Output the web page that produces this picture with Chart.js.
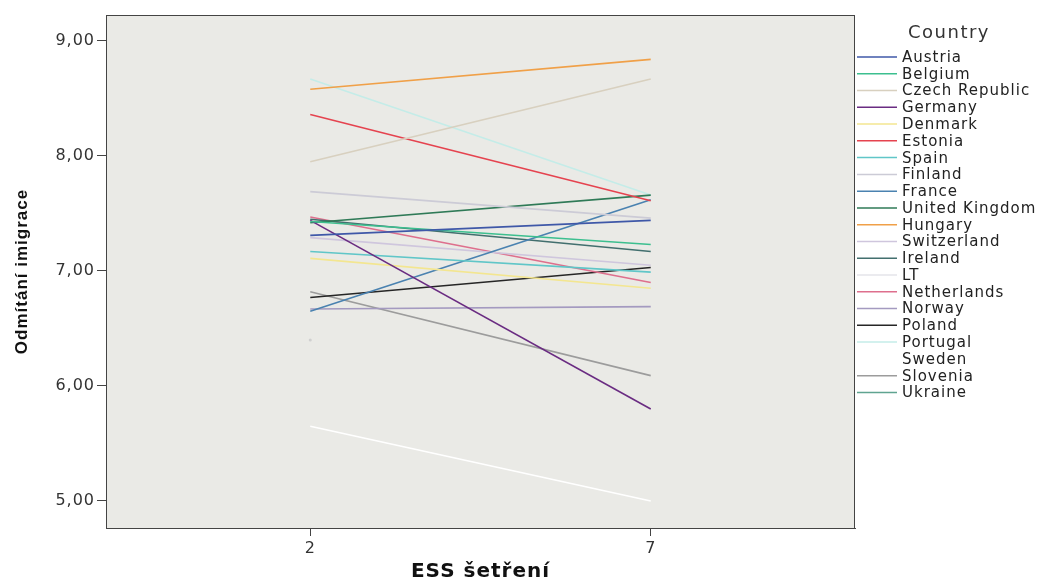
<!DOCTYPE html>
<html>
<head>
<meta charset="utf-8">
<script src="https://cdn.jsdelivr.net/npm/chart.js@4.4.1/dist/chart.umd.min.js"></script>
<style>
  body { margin: 0; background: #ffffff; }
  canvas { display: block; }
</style>
</head>
<body>
<canvas id="ess-chart" width="1043" height="584"></canvas>
<script>
// ESS waves on the x axis
const waves = [2, 7];
const countries = ["Austria", "Belgium", "Czech Republic", "Germany", "Denmark", "Estonia", "Spain",
  "Finland", "France", "United Kingdom", "Hungary", "Switzerland", "Ireland", "LT", "Netherlands",
  "Norway", "Poland", "Portugal", "Sweden", "Slovenia", "Ukraine"];
const wave2 = [7.31, 7.43, 7.95, 7.44, 7.11, 8.36, 7.17, 7.69, 6.65, 7.42, 8.58, 7.29, 7.45, null,
  7.47, 6.67, 6.77, 8.67, 5.65, 6.82, 6.40];
const wave7 = [7.44, 7.23, 8.67, 5.80, 6.85, 7.61, 6.99, 7.46, 7.62, 7.66, 8.84, 7.05, 7.17, null,
  6.90, 6.69, 7.03, 7.66, 5.00, 6.09, null];
const yTicks = [5, 6, 7, 8, 9];

const colors = ["#3f58a8", "#3cbf8f", "#d8d0bf", "#6a2c82", "#f3e690", "#e5434f", "#60c6c8",
  "#cccbd6", "#4a82b0", "#2f7a57", "#f0a048", "#cfc6dd", "#426f6e", "#e4e4ea", "#de6f8d",
  "#a49ac0", "#262626", "#c4ece8", "#ffffff", "#9c9c9c", "#5fa491"];

document.addEventListener("DOMContentLoaded", function () {
  const ctx = document.getElementById("ess-chart").getContext("2d");

  const datasets = countries.map(function (name, i) {
    const vals = [wave2[i], wave7[i]];
    return {
      label: name,
      data: waves.map(function (w, j) { return { x: w, y: vals[j] }; }),
      borderColor: colors[i],
      backgroundColor: colors[i],
      borderWidth: 1.6,
      pointRadius: name === "Ukraine" ? 1.5 : 0,
      pointBorderWidth: 0,
      pointBackgroundColor: "#d0d0d0",
      tension: 0,
      spanGaps: false,
    };
  });

  // plot background, frame, and the legend on the right
  const decor = {
    id: "decor",
    beforeDraw: function (chart) {
      const a = chart.chartArea;
      const c = chart.ctx;
      c.save();
      c.fillStyle = "#eaeae6";
      c.fillRect(a.left, a.top, a.right - a.left, a.bottom - a.top);
      c.restore();
      c.letterSpacing = "1px"; // reference text is drawn wide
    },
    beforeDatasetsDraw: function (chart) {
      chart.ctx.letterSpacing = "0px";
    },
    afterDraw: function (chart) {
      const a = chart.chartArea;
      const c = chart.ctx;
      c.save();
      c.letterSpacing = "0px";
      c.strokeStyle = "#444";
      c.lineWidth = 1;
      c.strokeRect(a.left + 0.5, a.top + 0.5, a.right - a.left - 1, a.bottom - a.top);

      c.fillStyle = "#333";
      c.letterSpacing = "1.5px";
      c.font = "18px 'DejaVu Sans'";
      c.textAlign = "center";
      c.textBaseline = "middle";
      c.fillText("Country", 949, 33);

      c.letterSpacing = "1px";
      c.font = "15px 'DejaVu Sans'";
      c.textAlign = "left";
      chart.data.datasets.forEach(function (ds, i) {
        const y = 57 + i * 16.77;
        c.strokeStyle = ds.borderColor;
        c.lineWidth = 1.5;
        c.beginPath();
        c.moveTo(857, y);
        c.lineTo(897, y);
        c.stroke();
        c.fillStyle = "#222";
        c.fillText(ds.label, 902, y + 1);
      });
      c.restore();
    },
  };

  new Chart(ctx, {
    type: "line",
    data: { datasets: datasets },
    options: {
      responsive: false,
      animation: false,
      layout: { padding: { top: 15, right: 188, bottom: 0, left: 0 } },
      plugins: { legend: { display: false }, tooltip: { enabled: false } },
      scales: {
        x: {
          type: "linear",
          min: -1,
          max: 10,
          afterFit: function (s) { s.height = 56; },
          afterBuildTicks: function (s) { s.ticks = waves.map(function (v) { return { value: v }; }); },
          grid: { drawOnChartArea: false, drawTicks: true, tickLength: 8, color: "#444" },
          border: { color: "#444" },
          ticks: { color: "#333", padding: 3, font: { family: "DejaVu Sans", size: 16 } },
          title: {
            display: true,
            text: "ESS šetření",
            color: "#111",
            padding: { top: 0, bottom: 0 },
            font: { family: "DejaVu Sans", size: 20, weight: "bold" },
          },
        },
        y: {
          min: 4.765,
          max: 9.226,
          afterFit: function (s) { s.width = 106; },
          afterBuildTicks: function (s) { s.ticks = yTicks.map(function (v) { return { value: v }; }); },
          grid: { drawOnChartArea: false, drawTicks: true, tickLength: 9, color: "#444" },
          border: { color: "#444" },
          ticks: {
            color: "#333",
            padding: 2,
            font: { family: "DejaVu Sans", size: 16 },
            callback: function (v) { return v.toFixed(2).replace(".", ","); },
          },
          title: {
            display: true,
            text: "Odmítání imigrace",
            color: "#111",
            padding: { top: 12, bottom: 0 },
            font: { family: "Liberation Sans", size: 17, weight: "bold" },
          },
        },
      },
    },
    plugins: [decor],
  });
});
</script>
</body>
</html>
